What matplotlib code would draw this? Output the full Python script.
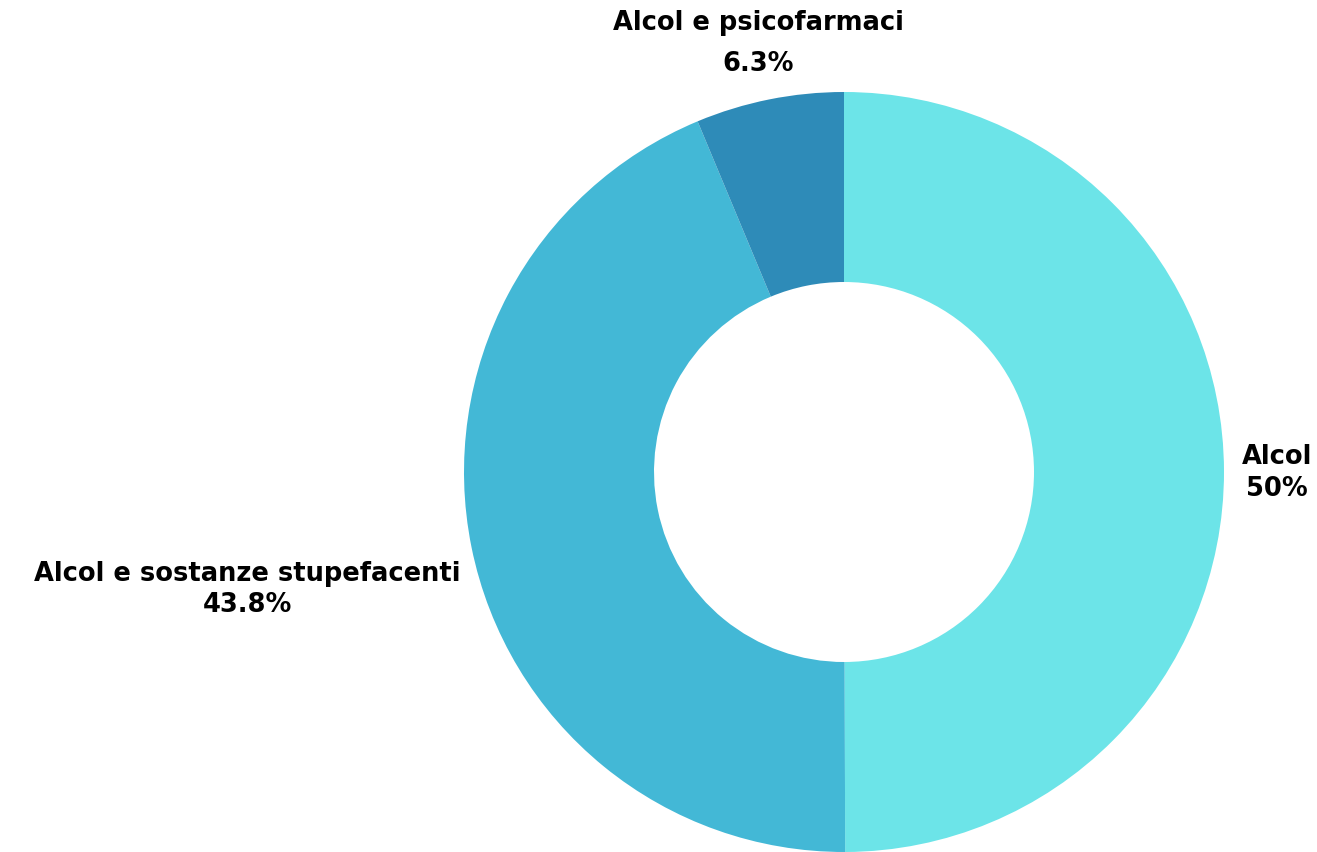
import matplotlib
matplotlib.use("Agg")
import matplotlib.pyplot as plt
import numpy as np

labels = ["Alcol", "Alcol e sostanze stupefacenti", "Alcol e psicofarmaci"]
values = [50.0, 43.8, 6.3]
pct_text = ["50%", "43.8%", "6.3%"]
colors = ["#6ce4e8", "#43b8d6", "#2e8bb8"]

plt.rcParams['font.family'] = ['DejaVu Sans']

fig = plt.figure(figsize=(13.17, 8.52), dpi=100)
ax = fig.add_axes([464 / 1317, 0.0, 760 / 1317, 760 / 852])

wedges, _ = ax.pie(values, colors=colors, startangle=90, counterclock=False,
                   radius=1.0, wedgeprops=dict(width=0.5, linewidth=0))
ax.set_xlim(-1, 1)
ax.set_ylim(-1, 1)
ax.set_aspect('equal')

# label placement per slice: (distance, ha, dx, dy, linespacing)
place = [(1.14, 'center', 0.0, -0.005, 1.28),
         (1.03, 'right', 0.0, -0.105, 1.28),
         (1.15, 'center', 0.0, 0.0, 1.72)]
for w, lab, pt, (r, ha, dx, dy, ls) in zip(wedges, labels, pct_text, place):
    ang = np.deg2rad((w.theta1 + w.theta2) / 2)
    x = r * np.cos(ang) + dx
    y = r * np.sin(ang) + dy
    ax.text(x, y, lab + "\n" + pt, ha=ha, va='center', fontsize=18.5,
            fontweight='bold', linespacing=ls, multialignment='center', clip_on=False)

fig.savefig("out.png", dpi=100)
